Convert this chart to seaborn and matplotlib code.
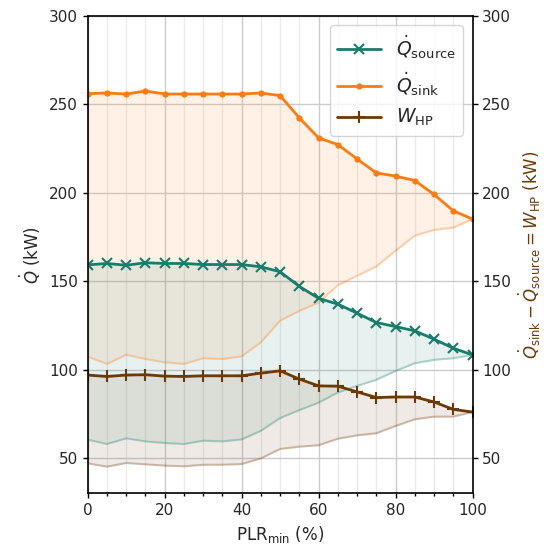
import numpy as np
import pandas as pd
import matplotlib
matplotlib.use("Agg")
import matplotlib.pyplot as plt
import seaborn as sns
from matplotlib.ticker import MultipleLocator

plr = [0, 5, 10, 15, 20, 25, 30, 35, 40, 45, 50, 55, 60, 65, 70, 75, 80, 85, 90, 95, 100]
q_sink = [256.0, 256.4, 255.8, 257.5, 255.8, 255.8, 255.8, 255.8, 255.8, 256.4, 254.9,
          242.3, 231.0, 227.2, 219.1, 211.2, 209.4, 206.9, 199.0, 189.8, 185.1]
q_source = [159.2, 160.0, 159.0, 160.4, 160.0, 160.0, 159.4, 159.4, 159.4, 158.1, 155.3,
            147.0, 140.3, 137.0, 131.9, 126.6, 124.3, 121.9, 117.2, 112.1, 108.3]
w_hp = [96.9, 96.1, 96.9, 97.1, 96.3, 96.1, 96.5, 96.5, 96.5, 98.0, 99.3,
        94.6, 90.8, 90.6, 87.4, 84.2, 84.5, 84.5, 81.7, 77.5, 76.0]
q_sink_low = [107.3, 103.2, 108.4, 106.0, 104.1, 103.2, 106.4, 106.0, 107.5, 115.4, 127.7,
              133.2, 137.9, 147.7, 153.0, 158.3, 167.2, 175.7, 179.0, 180.2, 185.1]
q_source_low = [60.4, 57.9, 61.1, 59.4, 58.5, 57.9, 59.8, 59.4, 60.5, 65.4, 72.6,
                77.1, 81.3, 87.0, 90.8, 94.2, 99.2, 103.6, 105.5, 106.4, 108.3]
w_hp_low = [47.0, 45.1, 47.2, 46.4, 45.7, 45.3, 46.2, 46.2, 46.6, 49.8, 55.1,
            56.4, 57.2, 60.9, 62.8, 64.0, 68.1, 71.9, 73.4, 73.4, 76.0]

c_source = "#177d6b"
c_sink = "#ff7b0f"
c_hp = "#6b3a06"

sns.set_theme(style="ticks")
plt.rcParams['font.family'] = ['DejaVu Sans']
plt.rcParams['mathtext.fontset'] = 'dejavusans'

fig = plt.figure(figsize=(5.52, 5.47), dpi=100)
ax = fig.add_axes([0.159, 0.098, 0.697, 0.873])

df = pd.DataFrame({"plr": plr, "src": q_source, "snk": q_sink, "hp": w_hp})

# bands
ax.fill_between(plr, q_sink_low, q_sink, color=c_sink, alpha=0.1, lw=0)
ax.fill_between(plr, q_source_low, q_source, color=c_source, alpha=0.1, lw=0)
ax.fill_between(plr, w_hp_low, w_hp, color=c_hp, alpha=0.1, lw=0)
sns.lineplot(x=plr, y=q_sink_low, color=c_sink, alpha=0.3, lw=1.5, ax=ax)
sns.lineplot(x=plr, y=q_source_low, color=c_source, alpha=0.3, lw=1.5, ax=ax)
sns.lineplot(x=plr, y=w_hp_low, color=c_hp, alpha=0.3, lw=1.5, ax=ax)

sns.lineplot(data=df, x="plr", y="src", color=c_source, marker="x", markersize=7.5,
             markeredgewidth=1.5, markeredgecolor=c_source, lw=2, ax=ax,
             label=r"$\dot{Q}_{\rm source}$")
sns.lineplot(data=df, x="plr", y="snk", color=c_sink, marker="o", markersize=4.5,
             markeredgewidth=0, markerfacecolor=c_sink, markeredgecolor=c_sink, lw=2, ax=ax,
             label=r"$\dot{Q}_{\rm sink}$")
sns.lineplot(data=df, x="plr", y="hp", color=c_hp, marker="+", markersize=8.5,
             markeredgewidth=1.5, markeredgecolor=c_hp, lw=2, ax=ax,
             label=r"$W_{\rm HP}$")

ax.set_xlim(0, 100)
ax.set_ylim(30, 300)
ax.xaxis.set_major_locator(MultipleLocator(20))
ax.xaxis.set_minor_locator(MultipleLocator(5))
ax.yaxis.set_major_locator(MultipleLocator(50))
ax.grid(which="major", axis="both", color="#cccccc", lw=1.0)
ax.grid(which="minor", axis="x", color="#ebebeb", lw=1.0)
ax.set_axisbelow(True)
ax.tick_params(axis="both", which="major", labelsize=11, length=3.5, width=1, color="black")
ax.tick_params(axis="x", which="minor", length=2.5, width=1, color="black")
for s in ax.spines.values():
    s.set_color("black")
    s.set_linewidth(1.2)

ax.set_xlabel(r"PLR$_{\rm min}$ (%)", fontsize=12)
ax.set_ylabel(r"$\dot{Q}$ (kW)", fontsize=12)

ax2 = ax.twinx()
ax2.set_ylim(30, 300)
ax2.yaxis.set_major_locator(MultipleLocator(50))
ax2.tick_params(axis="y", labelsize=11, length=3.5, width=1, color="black")
ax2.set_ylabel(r"$\dot{Q}_{\rm sink} - \dot{Q}_{\rm source} = W_{\rm HP}$ (kW)",
               fontsize=12, color=c_hp)
for s in ax2.spines.values():
    s.set_visible(False)

leg = ax.legend(loc="upper right", fontsize=13.5, frameon=True, fancybox=True,
                framealpha=0.8, edgecolor="#cccccc", handlelength=2.3)

fig.savefig("out.png", dpi=100)
